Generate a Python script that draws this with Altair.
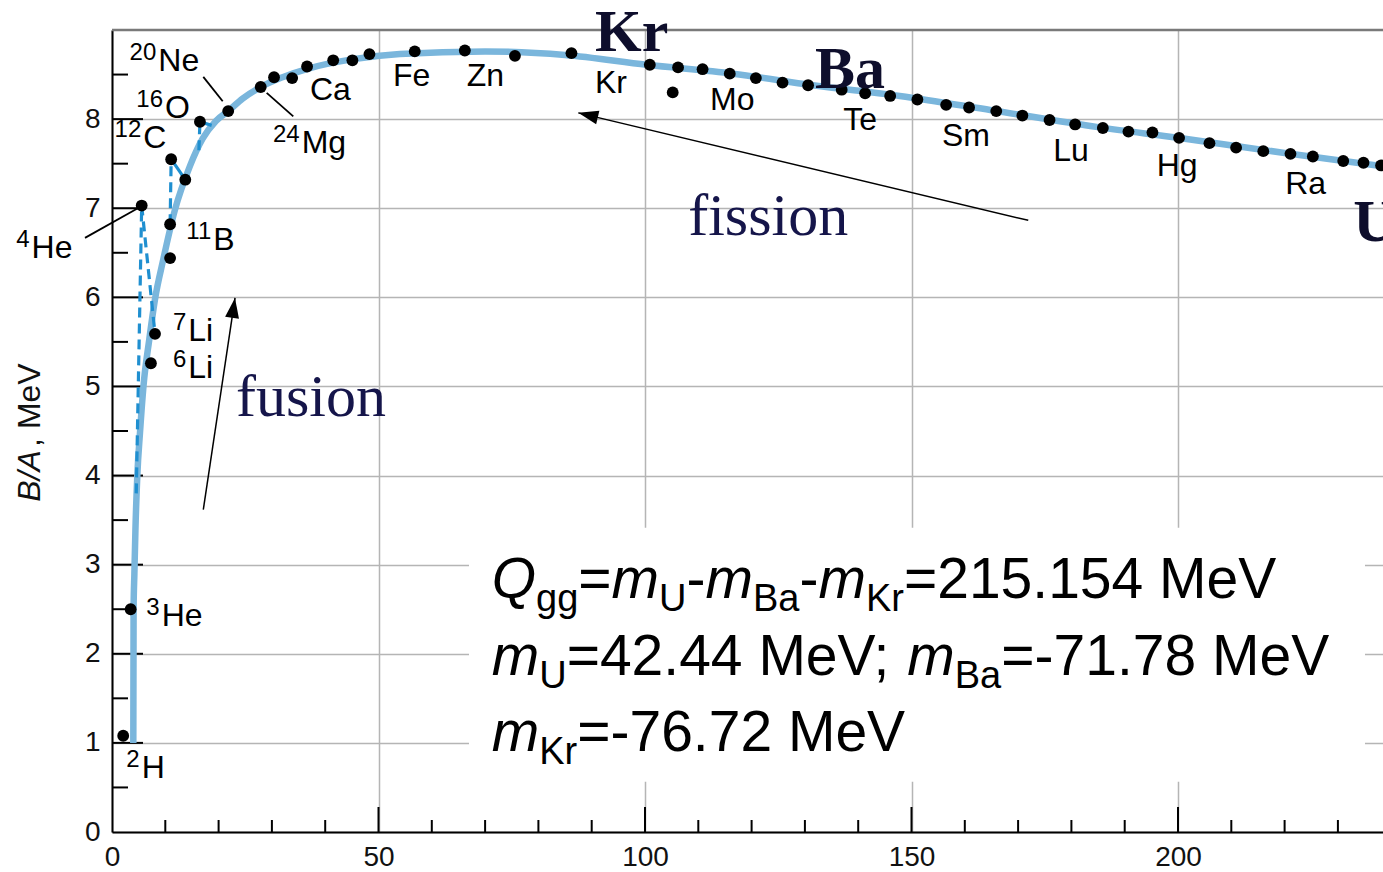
import altair as alt
import pandas as pd

# ---------------- values ----------------
# nuclide points (mass number A, binding energy per nucleon B/A in MeV)
dot_A = [2.1, 3.5, 7.3, 8.07, 5.57, 10.9, 10.9, 11.1, 13.75, 16.5, 21.8, 27.9, 30.4, 33.8,
         36.6, 41.5, 45.1, 48.3, 56.8, 66.2, 75.6, 86.2, 100.9, 105.2, 106.2, 110.8, 115.9,
         120.8, 125.8, 130.6, 136.9, 141.3, 146.0, 151.1, 156.5, 160.8, 165.9, 170.8, 175.9,
         180.7, 185.9, 190.7, 195.2, 200.2, 205.9, 210.9, 216.0, 221.1, 225.3, 231.0, 234.8, 238.1]
dot_B = [1.08, 2.50, 5.26, 5.59, 7.03, 6.82, 6.44, 7.55, 7.32, 7.97, 8.09, 8.36, 8.47, 8.46,
         8.59, 8.66, 8.66, 8.73, 8.76, 8.77, 8.71, 8.74, 8.61, 8.30, 8.58, 8.56, 8.51,
         8.46, 8.41, 8.38, 8.33, 8.29, 8.26, 8.22, 8.16, 8.13, 8.09, 8.04, 7.99,
         7.94, 7.90, 7.86, 7.85, 7.79, 7.73, 7.68, 7.64, 7.61, 7.58, 7.53, 7.51, 7.48]

# smooth trend curve
curve_A = [4.0, 4.05, 4.2, 4.4, 4.75, 5.25, 5.9, 7.0, 8.07, 9.6, 11.8, 14.6, 17.0, 19.5,
           21.8, 24.5, 27.9, 32.0, 37.0, 45.0, 54.0, 70.0, 85.0, 100.3, 116.5, 131.5,
           147.8, 165.0, 185.0, 200.0, 220.0, 238.4]
curve_B = [1.0, 2.5, 2.9, 3.4, 4.0, 4.48, 5.0, 5.53, 5.98, 6.42, 6.98, 7.47, 7.78, 7.98,
           8.09, 8.23, 8.36, 8.47, 8.57, 8.67, 8.73, 8.76, 8.72, 8.61, 8.51, 8.38,
           8.26, 8.10, 7.91, 7.79, 7.62, 7.47]

# dashed blue connectors among light nuclei
dash_seg = ["a", "a", "b", "b", "c", "c", "d", "d"]
dash_A = [5.57, 4.55, 5.57, 8.07, 11.1, 10.9, 16.5, 16.3]
dash_B = [7.03, 3.8, 7.03, 5.59, 7.55, 6.82, 7.97, 7.65]
# short solid blue connectors
link_seg = ["e", "e", "f", "f"]
link_A = [11.1, 13.75, 16.5, 18.7]
link_B = [7.55, 7.32, 7.97, 7.93]

# isotope labels (symbol, mass-number superscript)
iso_sym = ["Ne", "O", "C", "He", "B", "Li", "Li", "He", "H", "Mg"]
iso_mass = ["20", "16", "12", "4", "11", "7", "6", "3", "2", "24"]
iso_A = [8.69, 9.94, 5.87, -15.08, 19.0, 14.32, 14.32, 9.32, 5.57, 35.59]
iso_B = [8.537, 8.013, 7.677, 6.442, 6.535, 5.506, 5.095, 2.307, 0.606, 7.624]

# element labels
elem_text = ["Ca", "Fe", "Zn", "Kr", "Mo", "Te", "Sm", "Lu", "Hg", "Ra"]
elem_A = [37.15, 52.72, 66.55, 90.62, 112.2, 137.2, 155.7, 176.6, 196.0, 220.1]
elem_B = [8.218, 8.368, 8.368, 8.294, 8.106, 7.882, 7.695, 7.534, 7.358, 7.164]

# big bold serif labels
big_text = ["Kr", "Ba", "U"]
big_A = [90.62, 131.89, 232.9]
big_B = [8.761, 8.350, 6.629]

# process words
word_text = ["fission", "fusion"]
word_A = [108.1, 23.26]
word_B = [6.704, 4.664]

# arrows (tail -> head) and arrowheads
arrow_A = [171.9, 17.13]
arrow_B = [6.864, 3.617]
arrow_A2 = [87.49, 23.08]
arrow_B2 = [8.070, 5.993]
head_A = [89.31, 22.80]
head_B = [8.044, 5.882]
head_angle = [283.4, 8.5]

# leader lines
lead_A = [-5.07, 17.13, 29.02]
lead_B = [6.667, 8.474, 8.294]
lead_A2 = [4.93, 20.77, 34.01]
lead_B2 = [7.003, 8.200, 8.031]

# text box (white background behind equations)
box_A, box_A2 = [66.98], [235.08]
box_B, box_B2 = [3.415], [0.565]

# equations: (text, style)
eq_lines = [
    [("Q", "it"), ("gg", "sub"), ("=", "up"), ("m", "it"), ("U", "sub"), ("-", "up"),
     ("m", "it"), ("Ba", "sub"), ("-", "up"), ("m", "it"), ("Kr", "sub"),
     ("=215.154 MeV", "up")],
    [("m", "it"), ("U", "sub"), ("=42.44 MeV; ", "up"), ("m", "it"), ("Ba", "sub"),
     ("=-71.78 MeV", "up")],
    [("m", "it"), ("Kr", "sub"), ("=-76.72 MeV", "up")],
]
eq_start_A = 71.24
eq_baseline_B = [2.624, 1.765, 0.905]

# axis ticks
x_labels = [0, 50, 100, 150, 200]
y_labels = [0, 1, 2, 3, 4, 5, 6, 7, 8]
x_major = [50, 100, 150, 200]
x_minor = [v for v in range(10, 240, 10) if v % 50 != 0]
y_major = [1, 2, 3, 4, 5, 6, 7, 8]
y_minor = [v + 0.5 for v in range(0, 9)]

# ---------------- layout ----------------
X_MAX, Y_MAX = 238.46, 9
W, H = 1271, 802
PX_PER_A = W / X_MAX
PX_PER_B = H / Y_MAX
EQ_SIZE, SUB_SIZE, SUB_DROP = 57, 38, 13
SANS = "Liberation Sans"
SERIF = "Liberation Serif"

ARIAL_W = {' ': 0.278, '-': 0.333, '.': 0.278, ';': 0.278, '=': 0.584, 'M': 0.833,
           'e': 0.556, 'V': 0.667, 'Q': 0.778, 'g': 0.556, 'm': 0.833, 'U': 0.722,
           'B': 0.667, 'a': 0.556, 'K': 0.667, 'r': 0.333}


def text_width(s, size):
    return sum(ARIAL_W.get(c, 0.556) for c in s) * size


eq_rows = []
for line, base in zip(eq_lines, eq_baseline_B):
    px = 0.0
    for txt, style in line:
        size = SUB_SIZE if style == "sub" else EQ_SIZE
        drop = SUB_DROP / PX_PER_B if style == "sub" else 0.0
        eq_rows.append({"t": txt, "style": style, "A": eq_start_A + px / PX_PER_A, "B": base - drop})
        px += text_width(txt, size)
eq_df = pd.DataFrame(eq_rows)

xs = alt.Scale(domain=[0, X_MAX], nice=False, zero=False)
ys = alt.Scale(domain=[0, Y_MAX], nice=False, zero=False)
x_axis = alt.Axis(values=x_labels, title=None, grid=True, ticks=False, domain=True,
                  domainColor="black", domainWidth=2, gridColor="#b5b5b5", gridWidth=1.5,
                  labelFont=SANS, labelFontSize=28, labelColor="#111", labelPadding=11,
                  labelFlush=False, labelOverlap=False)
y_axis = alt.Axis(values=y_labels, title=None, grid=True, ticks=False, domain=True,
                  domainColor="black", domainWidth=2, gridColor="#b5b5b5", gridWidth=1.5,
                  labelFont=SANS, labelFontSize=28, labelColor="#111", labelPadding=12,
                  labelFlush=False, labelOverlap=False)


def X(f="A"):
    return alt.X(f"{f}:Q", scale=xs, axis=x_axis)


def Y(f="B"):
    return alt.Y(f"{f}:Q", scale=ys, axis=y_axis)


dots = pd.DataFrame({"A": dot_A, "B": dot_B})
curve = pd.DataFrame({"A": curve_A, "B": curve_B})
dash = pd.DataFrame({"seg": dash_seg, "A": dash_A, "B": dash_B})
link = pd.DataFrame({"seg": link_seg, "A": link_A, "B": link_B})
iso = pd.DataFrame({"sym": iso_sym, "mass": iso_mass, "A": iso_A, "B": iso_B})
elem = pd.DataFrame({"t": elem_text, "A": elem_A, "B": elem_B})
big = pd.DataFrame({"t": big_text, "A": big_A, "B": big_B})
words = pd.DataFrame({"t": word_text, "A": word_A, "B": word_B})
arrows = pd.DataFrame({"A": arrow_A, "B": arrow_B, "A2": arrow_A2, "B2": arrow_B2})
heads = pd.DataFrame({"A": head_A, "B": head_B, "ang": head_angle})
leads = pd.DataFrame({"A": lead_A, "B": lead_B, "A2": lead_A2, "B2": lead_B2})
box = pd.DataFrame({"A": box_A, "A2": box_A2, "B": box_B, "B2": box_B2})

base_grid = alt.Chart(curve).mark_line(opacity=0).encode(x=X(), y=Y())

box_l = alt.Chart(box).mark_rect(color="white").encode(
    x=X(), x2=alt.X2("A2"), y=Y(), y2=alt.Y2("B2"))

y_maj_l = alt.Chart(pd.DataFrame({"B": y_major})).mark_rule(color="black", strokeWidth=2).encode(
    y=Y(), x=alt.value(0), x2=alt.value(31))
y_min_l = alt.Chart(pd.DataFrame({"B": y_minor})).mark_rule(color="black", strokeWidth=2).encode(
    y=Y(), x=alt.value(0), x2=alt.value(16))
x_maj_l = alt.Chart(pd.DataFrame({"A": x_major})).mark_rule(color="black", strokeWidth=2).encode(
    x=X(), y=alt.value(H), y2=alt.value(H - 25))
x_min_l = alt.Chart(pd.DataFrame({"A": x_minor})).mark_rule(color="black", strokeWidth=2).encode(
    x=X(), y=alt.value(H), y2=alt.value(H - 12))
top_l = alt.Chart(pd.DataFrame({"B": [Y_MAX]})).mark_rule(color="#7a7a7a", strokeWidth=2.5).encode(
    y=Y(), x=alt.value(0), x2=alt.value(W))

curve_l = alt.Chart(curve).mark_line(color="#7ab6dc", strokeWidth=6.5, interpolate="monotone").encode(
    x=X(), y=Y())
dash_l = alt.Chart(dash).mark_line(color="#1f8fd0", strokeWidth=3.2, strokeDash=[10, 6]).encode(
    x=X(), y=Y(), detail="seg:N")
link_l = alt.Chart(link).mark_line(color="#1f8fd0", strokeWidth=3.2).encode(
    x=X(), y=Y(), detail="seg:N")
dots_l = alt.Chart(dots).mark_circle(size=140, color="black", opacity=1).encode(x=X(), y=Y())

lead_l = alt.Chart(leads).mark_rule(color="black", strokeWidth=1.8).encode(
    x=X(), y=Y(), x2=alt.X2("A2"), y2=alt.Y2("B2"))
arrow_l = alt.Chart(arrows).mark_rule(color="black", strokeWidth=1.5).encode(
    x=X(), y=Y(), x2=alt.X2("A2"), y2=alt.Y2("B2"))
head_l = alt.Chart(heads).mark_point(shape="M0,-1L0.7,1L-0.7,1Z", filled=True, size=400,
                                     color="black", opacity=1, strokeWidth=0).encode(
    x=X(), y=Y(), angle=alt.Angle("ang:Q", scale=None))

iso_l = alt.Chart(iso).mark_text(align="left", baseline="alphabetic", font=SANS, fontSize=32,
                                 color="black").encode(x=X(), y=Y(), text="sym:N")
sup_l = alt.Chart(iso).mark_text(align="right", baseline="alphabetic", font=SANS, fontSize=24,
                                 color="black", dx=-2, dy=-11).encode(x=X(), y=Y(), text="mass:N")
elem_l = alt.Chart(elem).mark_text(align="left", baseline="alphabetic", font=SANS, fontSize=32,
                                   color="black").encode(x=X(), y=Y(), text="t:N")
big_l = alt.Chart(big).mark_text(align="left", baseline="alphabetic", font=SERIF, fontSize=60,
                                 fontWeight="bold", color="#0e0e2c").encode(x=X(), y=Y(), text="t:N")
word_l = alt.Chart(words).mark_text(align="left", baseline="alphabetic", font=SERIF, fontSize=60,
                                    color="#15154a").encode(x=X(), y=Y(), text="t:N")

eq_up = alt.Chart(eq_df[eq_df["style"] == "up"]).mark_text(
    align="left", baseline="alphabetic", font=SANS, fontSize=EQ_SIZE, color="black").encode(
    x=X(), y=Y(), text="t:N")
eq_it = alt.Chart(eq_df[eq_df["style"] == "it"]).mark_text(
    align="left", baseline="alphabetic", font=SANS, fontSize=EQ_SIZE, fontStyle="italic",
    color="black").encode(x=X(), y=Y(), text="t:N")
eq_sub = alt.Chart(eq_df[eq_df["style"] == "sub"]).mark_text(
    align="left", baseline="alphabetic", font=SANS, fontSize=SUB_SIZE, color="black").encode(
    x=X(), y=Y(), text="t:N")

ytitle1 = alt.Chart(pd.DataFrame({"t": ["B/A"]})).mark_text(
    align="left", baseline="alphabetic", angle=270, font=SANS, fontSize=32, fontStyle="italic",
    color="#111").encode(text="t:N", x=alt.value(-72), y=alt.value(471.7))
ytitle2 = alt.Chart(pd.DataFrame({"t": [", MeV"]})).mark_text(
    align="right", baseline="alphabetic", angle=270, font=SANS, fontSize=32,
    color="#111").encode(text="t:N", x=alt.value(-72), y=alt.value(333.3))

chart = alt.layer(
    base_grid, box_l, y_maj_l, y_min_l, x_maj_l, x_min_l, top_l,
    curve_l, dash_l, link_l, dots_l, lead_l, arrow_l, head_l,
    iso_l, sup_l, elem_l, big_l, word_l, eq_up, eq_it, eq_sub, ytitle1, ytitle2
).properties(
    width=W, height=H,
    autosize=alt.AutoSizeParams(type="none"),
    padding={"left": 112, "top": 30, "right": 0, "bottom": 40},
    background="white",
).configure_view(stroke=None)

chart.save("out.html", embed_options={"renderer": "svg", "actions": False})
